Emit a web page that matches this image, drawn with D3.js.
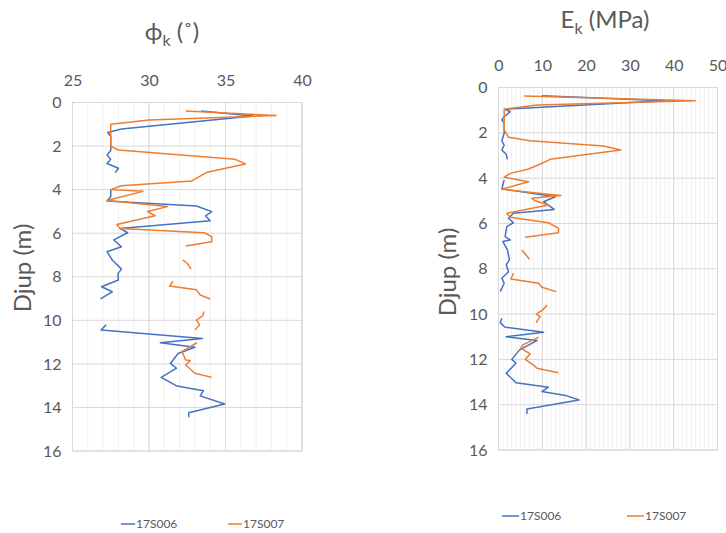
<!DOCTYPE html>
<html>
<head>
<meta charset="utf-8">
<script src="https://cdn.jsdelivr.net/npm/d3@7"></script>
<style>
  body { margin: 0; background: #fff; }
  svg text { font-family: Lato, "Open Sans", sans-serif; fill: #595959; }
</style>
</head>
<body>
<svg id="chart" width="726" height="533"></svg>
<script>
// [depth (m), value]; null value = break in the line
const phi006 = [
  [0.39, 33.4], [0.62, 36.8], [1.22, 28.2], [1.38, 27.3], [1.55, 27.5], [2.2, 27.5],
  [2.41, 27.26], [2.6, 27.5], [2.8, 27.26], [3.02, 28.0], [3.22, 27.8], [3.6, null],
  [4.02, 27.5], [4.32, 27.5], [4.52, 27.26], [4.75, 33.1], [5.01, 34.1], [5.21, 33.7],
  [5.43, 34.0], [5.78, 28.1], [5.98, 28.6], [6.31, 27.7], [6.62, 28.2], [6.85, 27.26],
  [7.23, 27.6], [7.65, 28.2], [7.87, 27.96], [8.15, 28.0], [8.46, 26.9], [8.69, 27.6],
  [9.02, 26.83], [9.6, null],
  [10.2, 27.2], [10.45, 26.87], [10.83, 33.5], [11.03, 30.74], [11.24, 33.0], [11.52, 31.9],
  [11.98, 31.4], [12.2, 31.8], [12.62, 30.8], [13.02, 31.83], [13.23, 33.56], [13.47, 33.35],
  [13.84, 34.94], [14.24, 32.6], [14.45, 32.6]
];
const phi007 = [
  [0.39, 32.4], [0.6, 38.3], [0.8, 30.0], [1.0, 27.5], [2.0, 27.5], [2.18, 28.0],
  [2.6, 35.6], [2.82, 36.3], [3.2, 33.8], [3.6, 32.8], [3.82, 28.2], [4.0, 27.5],
  [4.08, 29.6], [4.5, 27.26], [4.78, 31.2], [5.0, 29.9], [5.2, 30.4], [5.6, 27.9],
  [5.78, 28.1], [5.98, 33.6], [6.16, 34.1], [6.39, 34.1], [6.59, 32.4], [6.9, null],
  [7.23, 32.2], [7.38, 32.5], [7.65, 32.75], [7.9, null],
  [8.2, 31.57], [8.43, 31.35], [8.6, 33.1], [8.84, 33.35], [9.02, 34.0], [9.3, null],
  [9.6, 33.6], [9.8, 33.5], [9.99, 33.1], [10.2, 33.3], [10.45, 33.0], [10.7, null],
  [11.03, 33.13], [11.44, 32.15], [11.82, 32.4], [11.85, 32.7], [12.05, 32.4],
  [12.43, 33.0], [12.62, 34.1]
];
const ek006 = [
  [0.36, 9.9], [0.58, 38.0], [0.96, 1.5], [1.07, 2.67], [1.29, 1.3], [1.43, 0.76],
  [1.57, 1.3], [2.02, 1.3], [2.35, 0.76], [2.55, 1.3], [2.76, 0.76], [2.95, 1.76],
  [3.17, 2.05], [3.6, null],
  [4.08, 1.3], [4.47, 0.76], [4.82, 12.95], [5.04, 10.3], [5.38, 12.7], [5.55, 3.4],
  [5.77, 2.3], [5.97, 3.4], [6.14, 1.9], [6.58, 1.5], [6.73, 2.67], [6.8, 1.0],
  [7.17, 2.05], [7.61, 2.5], [7.83, 1.76], [8.13, 2.3], [8.42, 0.76], [8.64, 1.3],
  [9.01, 0.38], [9.6, null],
  [10.18, 0.76], [10.38, 0.38], [10.58, 1.5], [10.8, 10.3], [11.0, 1.76], [11.17, 8.77],
  [11.58, 4.8], [12.0, 3.05], [12.17, 4.0], [12.61, 1.76], [13.03, 4.0], [13.23, 11.4],
  [13.42, 9.9], [13.61, 15.6], [13.79, 18.4], [14.19, 6.5], [14.41, 6.5]
];
const ek007 = [
  [0.38, 5.9], [0.58, 44.9], [0.77, 8.8], [0.96, 1.3], [1.87, 1.3], [2.2, 2.3],
  [2.35, 7.2], [2.58, 24.0], [2.76, 27.9], [3.17, 11.8], [3.42, 9.1], [3.6, 6.85],
  [3.79, 2.67], [3.96, 1.3], [4.16, 6.85], [4.49, 0.76], [4.77, 14.25], [4.89, 7.6],
  [5.0, 8.4], [5.19, 11.4], [5.55, 1.9], [5.73, 2.67], [5.97, 11.4], [6.21, 13.7],
  [6.41, 13.7], [6.61, 6.1], [6.9, null],
  [7.17, 5.34], [7.35, 6.1], [7.58, 7.08], [7.9, null],
  [8.2, 3.42], [8.45, 2.83], [8.64, 9.13], [8.82, 9.9], [9.01, 13.2], [9.3, null],
  [9.6, 11.05], [9.82, 10.1], [10.0, 8.6], [10.1, 9.5], [10.38, 8.6], [10.7, null],
  [11.03, 9.13], [11.36, 5.56], [11.5, 5.1], [11.76, 7.2], [12.0, 6.1], [12.25, 8.0],
  [12.39, 8.77], [12.59, 13.7]
];
const seriesNames = ["17S006", "17S007"];
const seriesColors = ["#4472C4", "#ED7D31"];
const depthTicks = [0, 2, 4, 6, 8, 10, 12, 14, 16];

const svg = d3.select("#chart");

function drawPanel(cfg) {
  const x = d3.scaleLinear().domain(cfg.xDomain).range([cfg.left, cfg.right]);
  const y = d3.scaleLinear().domain([0, 16]).range([cfg.top, cfg.bottom]);
  const g = svg.append("g");

  // minor vertical grid
  g.selectAll(".minor").data(d3.range(cfg.xDomain[0], cfg.xDomain[1] + 0.001, cfg.minor))
    .enter().append("line")
    .attr("x1", d => x(d)).attr("x2", d => x(d))
    .attr("y1", cfg.top).attr("y2", cfg.bottom)
    .attr("stroke", "#f0f0f0").attr("stroke-width", 1);
  // major vertical grid
  g.selectAll(".majorx").data(cfg.xTicks).enter().append("line")
    .attr("x1", d => x(d)).attr("x2", d => x(d))
    .attr("y1", cfg.top).attr("y2", cfg.bottom)
    .attr("stroke", "#d9d9d9").attr("stroke-width", 1);
  // major horizontal grid
  g.selectAll(".majory").data(depthTicks).enter().append("line")
    .attr("x1", cfg.left).attr("x2", cfg.right)
    .attr("y1", d => y(d)).attr("y2", d => y(d))
    .attr("stroke", "#d9d9d9").attr("stroke-width", 1);
  g.append("rect")
    .attr("x", cfg.left).attr("y", cfg.top)
    .attr("width", cfg.right - cfg.left).attr("height", cfg.bottom - cfg.top)
    .attr("fill", "none").attr("stroke", "#d9d9d9");

  // axes (text only)
  const xAxis = g.append("g")
    .attr("transform", `translate(0,${cfg.xLabelY})`)
    .call(d3.axisTop(x).tickValues(cfg.xTicks).tickSize(0).tickPadding(0));
  xAxis.select(".domain").remove();
  xAxis.selectAll("text").style("font-size", "16px").attr("dy", "0.35em");

  const yAxis = g.append("g")
    .attr("transform", `translate(${cfg.left - 11},0)`)
    .call(d3.axisLeft(y).tickValues(depthTicks).tickSize(0).tickPadding(0));
  yAxis.select(".domain").remove();
  yAxis.selectAll("text").style("font-size", "16px");

  const line = d3.line()
    .defined(d => d[1] !== null)
    .x(d => x(d[1]))
    .y(d => y(d[0]));

  cfg.data.forEach((s, i) => {
    g.append("path")
      .datum(s)
      .attr("fill", "none")
      .attr("stroke", seriesColors[i])
      .attr("stroke-width", 1.5)
      .attr("stroke-linejoin", "round")
      .attr("d", line);
  });

  // title
  const t = g.append("text")
    .attr("x", cfg.titleX).attr("y", cfg.titleY)
    .attr("text-anchor", "middle")
    .style("font-size", "24px");
  t.append("tspan").text(cfg.title[0]);
  t.append("tspan").attr("dy", "6").style("font-size", "16px").text("k");
  t.append("tspan").attr("dy", "-6").text(cfg.title[1]);

  // y axis title
  g.append("text")
    .attr("transform", `translate(${cfg.yTitleX},${cfg.yTitleY}) rotate(-90)`)
    .attr("text-anchor", "middle")
    .style("font-size", "24px")
    .text("Djup (m)");

  // legend
  seriesNames.forEach((name, i) => {
    const lx = cfg.legendX[i];
    g.append("line")
      .attr("x1", lx).attr("x2", lx + cfg.legendLen)
      .attr("y1", cfg.legendY).attr("y2", cfg.legendY)
      .attr("stroke", seriesColors[i]).attr("stroke-width", 1.5);
    g.append("text")
      .attr("x", lx + cfg.legendLen + 1).attr("y", cfg.legendY)
      .attr("dy", "0.35em")
      .style("font-size", "12px")
      .text(name);
  });
}

drawPanel({
  data: [phi006, phi007],
  xDomain: [25, 40], xTicks: [25, 30, 35, 40], minor: 1,
  left: 72.5, right: 302, top: 102.5, bottom: 451,
  xLabelY: 80,
  title: ["ϕ", " (˚)"], titleX: 172, titleY: 40,
  yTitleX: 31, yTitleY: 268,
  legendX: [121, 228], legendLen: 14, legendY: 524
});

drawPanel({
  data: [ek006, ek007],
  xDomain: [0, 50], xTicks: [0, 10, 20, 30, 40, 50], minor: 1,
  left: 498.5, right: 717.5, top: 87.5, bottom: 450,
  xLabelY: 65,
  title: ["E", " (MPa)"], titleX: 605, titleY: 28,
  yTitleX: 456, yTitleY: 272,
  legendX: [502, 627], legendLen: 17, legendY: 516
});
</script>
</body>
</html>
